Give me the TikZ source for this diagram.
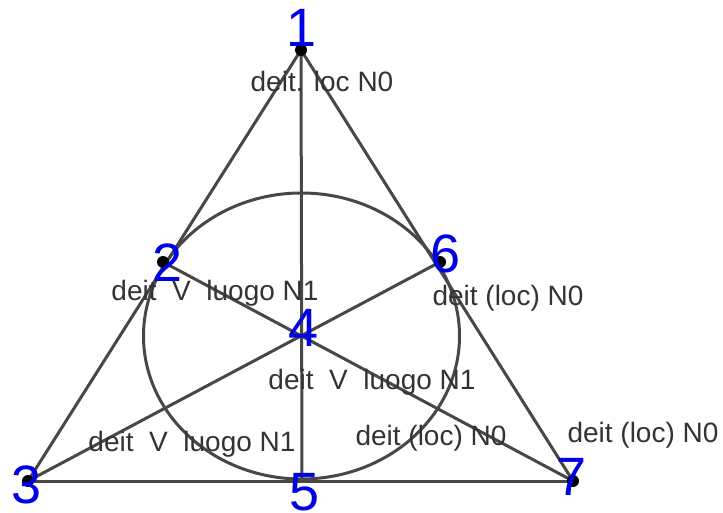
\documentclass[tikz,border=0pt]{standalone}
\usepackage{fontspec}
\setmainfont{Liberation Sans}
\usetikzlibrary{positioning}

\begin{document}
\begin{tikzpicture}[x=0.5pt,y=-0.5pt,
  num/.style={text=blue!90!black, font=\fontsize{27}{27}\selectfont, inner sep=0pt},
  lbl/.style={text=black!80, font=\fontsize{14}{14}\selectfont, inner sep=0pt},
  ln/.style={draw=black!72, line width=1.5pt},
  dot/.style={fill=black}]
\useasboundingbox (0,0) rectangle (723,513);
% points of the plane
\coordinate (p1) at (301,50);
\coordinate (p2) at (163,262);
\coordinate (p3) at (28,481);
\coordinate (p4) at (302,336);
\coordinate (p5) at (302,481);
\coordinate (p6) at (440,262);
\coordinate (p7) at (573,481);
% lines
\draw[ln] (301.5,336) ellipse [x radius=158, y radius=143];
\draw[ln] (p1) -- (p3);
\draw[ln] (p1) -- (p7);
\draw[ln] (p3) -- (p7);
\draw[ln] (p1) -- (p5);
\draw[ln] (p2) -- (p7);
\draw[ln] (p6) -- (p3);
\foreach \p in {p1,p2,p3,p6,p7}
  \fill[dot] (\p) circle[radius=6];
% numbers
\node[num] (n1) at (302,28) {1};
\node[num] (n2) at (168,263) {2};
\node[num] (n3) at (27,485) {3};
\node[num] (n4) at (304,328) {4};
\node[num] (n5) at (305,492) {5};
\node[num] (n6) at (446,254) {6};
\node[num] (n7) at (572,477) {7};
% labels
\node[lbl] (l1) at (322,81) {deit. loc N0};
\node[lbl] (l2) at (215,293) {deit\ \ V\ \ luogo N1};
\node[lbl] (l6) at (508,298) {deit (loc) N0};
\node[lbl] (l4) at (372,382) {deit\ \ V\ \ luogo N1};
\node[lbl] (l3) at (192,444) {deit\ \ V\ \ luogo N1};
\node[lbl] (l5) at (431,438) {deit (loc) N0};
\node[lbl] (l7) at (643,435) {deit (loc) N0};
\end{tikzpicture}
\end{document}
